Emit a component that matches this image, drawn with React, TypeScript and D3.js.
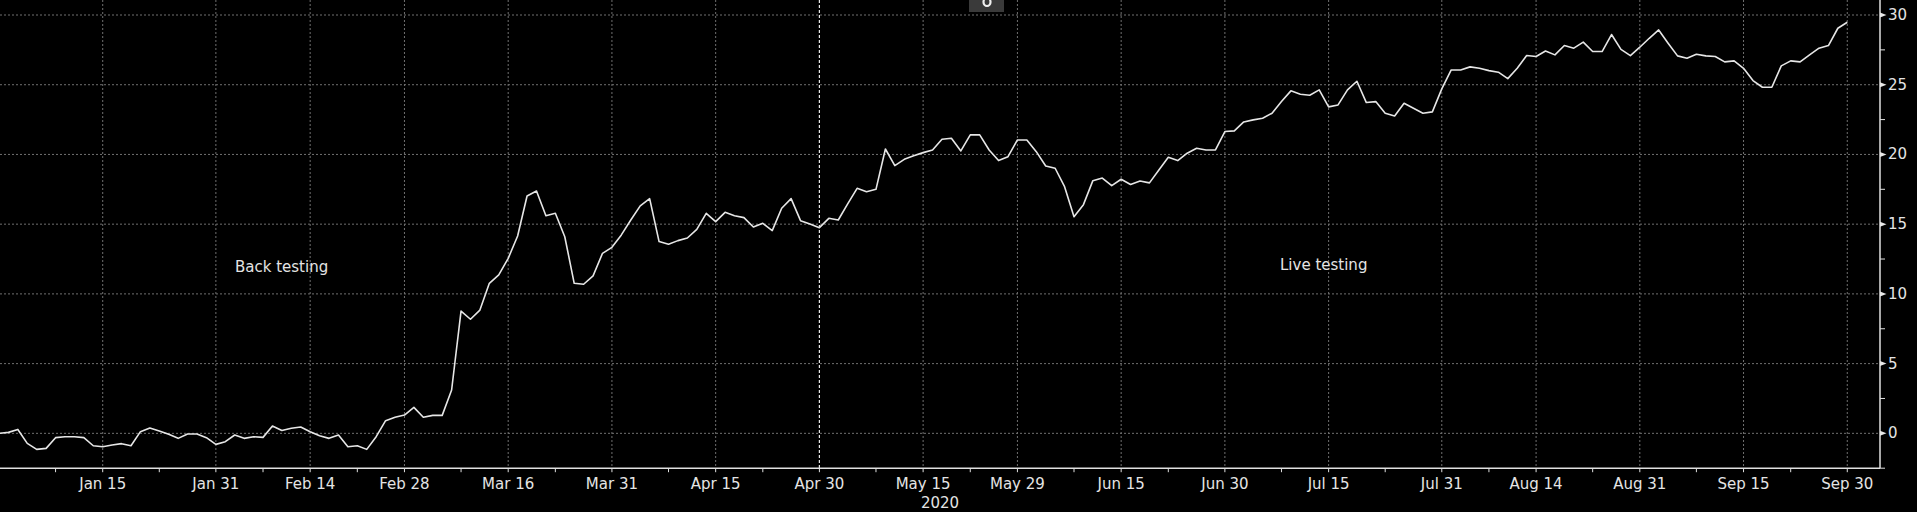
import React from "react";
import * as d3 from "d3";

// ---- data (one value per weekday, Dec 31 2019 .. Sep 30 2020) ----
const startDate = "2019-12-31";
const endDate = "2020-09-30";
const dec2019 = [0];
const jan = [0.07, 0.28, -0.72, -1.15, -1.08, -0.31, -0.24, -0.24, -0.31, -0.89, -0.96, -0.84, -0.74, -0.89, 0.12, 0.38, 0.17, -0.07, -0.36, -0.05, -0.05, -0.31, -0.79];
const feb = [-0.6, -0.12, -0.36, -0.24, -0.29, 0.52, 0.2, 0.36, 0.45, 0.12, -0.17, -0.36, -0.12, -0.96, -0.89, -1.15, -0.24, 0.91, 1.15, 1.31];
const mar = [1.86, 1.15, 1.29, 1.29, 3.11, 8.77, 8.18, 8.84, 10.76, 11.36, 12.55, 14.15, 17.02, 17.38, 15.61, 15.78, 14.1, 10.76, 10.69, 11.29, 12.91, 13.34];
const apr = [14.23, 15.3, 16.31, 16.83, 13.75, 13.56, 13.82, 14.01, 14.63, 15.78, 15.18, 15.85, 15.61, 15.47, 14.8, 15.06, 14.54, 16.14, 16.83, 15.25, 15.01, 14.75];
const may = [15.42, 15.3, 16.45, 17.57, 17.33, 17.5, 20.39, 19.2, 19.65, 19.91, 20.13, 20.32, 21.09, 21.16, 20.25, 21.4, 21.4, 20.32, 19.56, 19.84, 21.04];
const jun = [21.04, 20.2, 19.17, 19.01, 17.69, 15.54, 16.4, 18.12, 18.31, 17.76, 18.22, 17.84, 18.1, 17.96, 18.89, 19.8, 19.56, 20.09, 20.44, 20.32, 20.32, 21.64];
const jul = [21.69, 22.33, 22.48, 22.6, 22.96, 23.79, 24.56, 24.32, 24.25, 24.63, 23.41, 23.55, 24.63, 25.25, 23.72, 23.79, 22.96, 22.76, 23.67, 23.31, 22.96, 23.05, 24.7];
const aug = [26.06, 26.06, 26.28, 26.18, 26.01, 25.9, 25.44, 26.18, 27.09, 27.02, 27.42, 27.14, 27.81, 27.62, 28.05, 27.38, 27.38, 28.6, 27.53, 27.09, 27.69];
const sep = [28.33, 28.93, 27.98, 27.07, 26.9, 27.19, 27.07, 27.02, 26.64, 26.71, 26.18, 25.3, 24.82, 24.82, 26.35, 26.71, 26.64, 27.14, 27.62, 27.81, 29.05, 29.48];

const majorTickDates = ["2020-01-15", "2020-01-31", "2020-02-14", "2020-02-28", "2020-03-16", "2020-03-31", "2020-04-15", "2020-04-30", "2020-05-15", "2020-05-29", "2020-06-15", "2020-06-30", "2020-07-15", "2020-07-31", "2020-08-14", "2020-08-31", "2020-09-15", "2020-09-30"];
const majorTickLabels = ["Jan 15", "Jan 31", "Feb 14", "Feb 28", "Mar 16", "Mar 31", "Apr 15", "Apr 30", "May 15", "May 29", "Jun 15", "Jun 30", "Jul 15", "Jul 31", "Aug 14", "Aug 31", "Sep 15", "Sep 30"];
const minorTickDates = ["2020-01-08", "2020-01-23", "2020-02-07", "2020-02-21", "2020-03-09", "2020-03-23", "2020-04-08", "2020-04-22", "2020-05-08", "2020-05-22", "2020-06-08", "2020-06-22", "2020-07-08", "2020-07-23", "2020-08-07", "2020-08-24", "2020-09-08", "2020-09-22"];
const yearLabel = "2020";
const yTicks = [0, 5, 10, 15, 20, 25, 30];
const yMinorTicks = [-2.5, 2.5, 7.5, 12.5, 17.5, 22.5, 27.5];
const dividerDate = "2020-04-30";
const annotations = [
  { text: "Back testing", date: "2020-01-24" },
  { text: "Live testing", date: "2020-06-30" },
];

const W = 1917;
const H = 512;
const plotRight = 1880;
const plotBottom = 468.2;
const FONT = "'DejaVu Sans', sans-serif";
const TEXT = "#e4e4e4";

export default function App() {
  const fmt = d3.utcFormat("%Y-%m-%d");
  const parse = d3.utcParse("%Y-%m-%d");
  const days = d3
    .utcDay.range(parse(startDate)!, d3.utcDay.offset(parse(endDate)!, 1))
    .filter((d) => d.getUTCDay() !== 0 && d.getUTCDay() !== 6);
  const values = [...dec2019, ...jan, ...feb, ...mar, ...apr, ...may, ...jun, ...jul, ...aug, ...sep];
  const idx = new Map(days.map((d, i) => [fmt(d), i]));
  const data = values.map((v, i) => ({ i, v }));

  const x = d3.scaleLinear().domain([0.109, 199.47]).range([0, plotRight]);
  const y = d3.scaleLinear().domain([-2.5, 30]).range([plotBottom, 15]);
  const line = d3
    .line<{ i: number; v: number }>()
    .x((d) => x(d.i))
    .y((d) => y(d.v));

  const px = (s: string) => x(idx.get(s) as number);
  const annX = (s: string) => px(s);

  return (
    <svg
      width={W}
      height={H}
      style={{ position: "fixed", left: 0, top: 0, background: "#000", display: "block" }}
    >
      <rect x={0} y={0} width={W} height={H} fill="#000" />
      <defs>
        <clipPath id="plot">
          <rect x={0} y={0} width={plotRight} height={plotBottom} />
        </clipPath>
      </defs>
      {/* horizontal gridlines */}
      {yTicks.map((t) => (
        <line key={"hg" + t} x1={0} x2={plotRight} y1={y(t)} y2={y(t)} stroke="#707070" strokeWidth={1} strokeDasharray="2,2" />
      ))}
      {/* vertical gridlines */}
      {majorTickDates.map((d) =>
        d === dividerDate ? null : (
          <line key={"vg" + d} x1={px(d)} x2={px(d)} y1={0} y2={plotBottom} stroke="#707070" strokeWidth={1} strokeDasharray="2,2" />
        )
      )}
      {/* divider */}
      <line x1={px(dividerDate)} x2={px(dividerDate)} y1={0} y2={plotBottom} stroke="#e8e8e8" strokeWidth={1.2} strokeDasharray="3,2" />

      {/* series */}
      <path d={line(data) || ""} fill="none" stroke="#e6e6e6" strokeWidth={1.6} clipPath="url(#plot)" strokeLinejoin="round" />

      {/* annotations */}
      <text x={235} y={272} fill={TEXT} fontFamily={FONT} fontSize={15}>{annotations[0].text}</text>
      <text x={1280} y={270} fill={TEXT} fontFamily={FONT} fontSize={15}>{annotations[1].text}</text>

      {/* x axis */}
      <line x1={0} x2={plotRight} y1={plotBottom} y2={plotBottom} stroke="#e0e0e0" strokeWidth={1.5} />
      {majorTickDates.map((d, k) => (
        <g key={"xt" + d}>
          <line x1={px(d)} x2={px(d)} y1={plotBottom} y2={plotBottom + 4} stroke="#e0e0e0" strokeWidth={1} />
          <text x={px(d)} y={489} fill={TEXT} fontFamily={FONT} fontSize={15} textAnchor="middle">
            {majorTickLabels[k]}
          </text>
        </g>
      ))}
      {minorTickDates.map((d) => (
        <line key={"xm" + d} x1={px(d)} x2={px(d)} y1={plotBottom} y2={plotBottom + 4} stroke="#e0e0e0" strokeWidth={1} />
      ))}
      <text x={plotRight / 2} y={508} fill={TEXT} fontFamily={FONT} fontSize={15} textAnchor="middle">
        {yearLabel}
      </text>

      {/* y axis */}
      <line x1={plotRight} x2={plotRight} y1={0} y2={plotBottom} stroke="#e0e0e0" strokeWidth={1.5} />
      {yMinorTicks.map((t) => (
        <line key={"ym" + t} x1={plotRight} x2={plotRight + 5} y1={y(t)} y2={y(t)} stroke="#e0e0e0" strokeWidth={1} />
      ))}
      {yTicks.map((t) => (
        <g key={"yt" + t}>
          <path
            d={`M${plotRight},${y(t) - 2.5}L${plotRight + 6.5},${y(t)}L${plotRight},${y(t) + 2.5}Z`}
            fill="#e8e8e8"
          />
          <text x={plotRight + 8} y={y(t)} fill={TEXT} fontFamily={FONT} fontSize={15} dominantBaseline="central">
            {t}
          </text>
        </g>
      ))}

      {/* small top badge */}
      <rect x={969} y={0} width={35} height={12} fill="#3a3a3a" />
      <ellipse cx={987} cy={2} rx={3.5} ry={4} fill="none" stroke="#f0f0f0" strokeWidth={2.2} />
    </svg>
  );
}
